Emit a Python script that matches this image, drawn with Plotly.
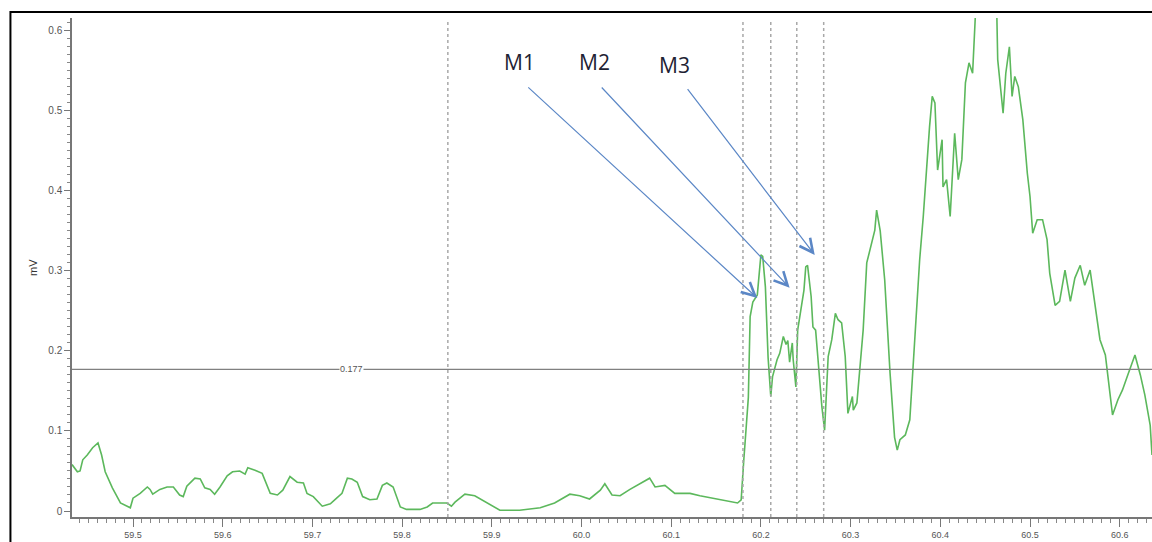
import plotly.graph_objects as go

# Retention time (min) and signal (mV)
time_min = [59.432, 59.438, 59.441, 59.444, 59.449, 59.455, 59.461, 59.465, 59.469, 59.477,
            59.486, 59.497, 59.500, 59.508, 59.516, 59.519, 59.522, 59.530, 59.538, 59.545,
            59.552, 59.556, 59.560, 59.564, 59.569, 59.575, 59.580, 59.586, 59.591, 59.597,
            59.605, 59.611, 59.619, 59.625, 59.628, 59.636, 59.644, 59.653, 59.661, 59.667,
            59.675, 59.683, 59.690, 59.694, 59.701, 59.711, 59.720, 59.727, 59.733, 59.739,
            59.744, 59.750, 59.756, 59.764, 59.772, 59.778, 59.783, 59.790, 59.798, 59.805,
            59.820, 59.828, 59.834, 59.850, 59.855, 59.859, 59.865, 59.870, 59.881, 59.898,
            59.909, 59.931, 59.954, 59.970, 59.987, 59.998, 60.009, 60.021, 60.026, 60.034,
            60.043, 60.054, 60.065, 60.076, 60.082, 60.093, 60.104, 60.121, 60.132, 60.154,
            60.174, 60.178, 60.179, 60.181, 60.182, 60.186, 60.188, 60.191, 60.196, 60.198,
            60.200, 60.202, 60.205, 60.208, 60.211, 60.213, 60.218, 60.221, 60.225, 60.228,
            60.230, 60.232, 60.235, 60.236, 60.239, 60.241, 60.246, 60.248, 60.250, 60.252,
            60.256, 60.258, 60.261, 60.264, 60.268, 60.271, 60.275, 60.279, 60.283, 60.286,
            60.290, 60.294, 60.297, 60.302, 60.303, 60.307, 60.310, 60.314, 60.318, 60.324,
            60.327, 60.329, 60.333, 60.338, 60.344, 60.349, 60.352, 60.355, 60.361, 60.366,
            60.374, 60.377, 60.381, 60.385, 60.388, 60.391, 60.394, 60.397, 60.402, 60.403,
            60.407, 60.411, 60.416, 60.420, 60.424, 60.428, 60.432, 60.436, 60.439, 60.445,
            60.452, 60.458, 60.463, 60.464, 60.470, 60.473, 60.477, 60.480, 60.483, 60.487,
            60.492, 60.497, 60.500, 60.503, 60.508, 60.514, 60.519, 60.522, 60.526, 60.528,
            60.533, 60.539, 60.545, 60.550, 60.556, 60.561, 60.567, 60.572, 60.578, 60.584,
            60.589, 60.592, 60.598, 60.603, 60.609, 60.617, 60.623, 60.628, 60.634, 60.636]

signal_mv = [0.058, 0.049, 0.050, 0.064, 0.070, 0.079, 0.085, 0.070, 0.049, 0.029,
             0.010, 0.004, 0.016, 0.022, 0.030, 0.027, 0.021, 0.027, 0.030, 0.030,
             0.020, 0.018, 0.031, 0.035, 0.041, 0.040, 0.029, 0.027, 0.021, 0.030,
             0.044, 0.049, 0.050, 0.046, 0.054, 0.051, 0.047, 0.022, 0.020, 0.026,
             0.043, 0.036, 0.035, 0.022, 0.018, 0.006, 0.009, 0.016, 0.022, 0.041,
             0.040, 0.036, 0.018, 0.014, 0.015, 0.032, 0.035, 0.030, 0.005, 0.002,
             0.002, 0.005, 0.010, 0.010, 0.006, 0.011, 0.017, 0.021, 0.019, 0.008,
             0.001, 0.001, 0.004, 0.010, 0.021, 0.019, 0.015, 0.026, 0.034, 0.020,
             0.019, 0.027, 0.034, 0.041, 0.030, 0.032, 0.022, 0.022, 0.019, 0.014,
             0.010, 0.014, 0.035, 0.065, 0.080, 0.142, 0.243, 0.261, 0.270, 0.301,
             0.320, 0.318, 0.280, 0.192, 0.143, 0.168, 0.189, 0.197, 0.218, 0.208,
             0.213, 0.186, 0.210, 0.189, 0.155, 0.226, 0.264, 0.276, 0.305, 0.307,
             0.268, 0.230, 0.226, 0.185, 0.130, 0.101, 0.193, 0.214, 0.247, 0.239,
             0.235, 0.193, 0.122, 0.143, 0.126, 0.135, 0.172, 0.226, 0.310, 0.335,
             0.351, 0.376, 0.350, 0.289, 0.172, 0.092, 0.076, 0.089, 0.095, 0.114,
             0.264, 0.314, 0.368, 0.439, 0.480, 0.518, 0.510, 0.426, 0.464, 0.405,
             0.414, 0.368, 0.472, 0.414, 0.439, 0.535, 0.560, 0.547, 0.617, 0.680,
             0.710, 0.680, 0.620, 0.564, 0.497, 0.547, 0.580, 0.518, 0.543, 0.530,
             0.489, 0.422, 0.393, 0.347, 0.364, 0.364, 0.339, 0.297, 0.272, 0.257,
             0.262, 0.301, 0.262, 0.291, 0.307, 0.282, 0.301, 0.264, 0.214, 0.195,
             0.151, 0.120, 0.139, 0.151, 0.170, 0.195, 0.170, 0.145, 0.107, 0.070]

x_tick_vals = [59.5, 59.6, 59.7, 59.8, 59.9, 60.0, 60.1, 60.2, 60.3, 60.4, 60.5, 60.6]
x_tick_text = ["59.5", "59.6", "59.7", "59.8", "59.9", "60.0", "60.1", "60.2", "60.3", "60.4", "60.5", "60.6"]
y_tick_vals = [0, 0.1, 0.2, 0.3, 0.4, 0.5, 0.6]
y_tick_text = ["0", "0.1", "0.2", "0.3", "0.4", "0.5", "0.6"]

threshold = 0.177
marker_lines = [59.851, 60.180, 60.211, 60.240, 60.270]

# Arrow labels: text, text position, arrow tail, arrow head (data units)
labels = ["M1", "M2", "M3"]
label_x = [59.931, 60.015, 60.104]
label_y = [0.561, 0.561, 0.557]
tail_x = [59.939, 60.021, 60.117]
tail_y = [0.531, 0.531, 0.529]
head_x = [60.196, 60.232, 60.260]
head_y = [0.266, 0.279, 0.320]

fig = go.Figure()
fig.add_trace(go.Scatter(x=time_min, y=signal_mv, mode="lines",
                         line=dict(color="#5cb85c", width=1.6), showlegend=False,
                         hoverinfo="x+y"))

shapes = []
shapes.append(dict(type="line", xref="paper", yref="y", x0=0, x1=1, y0=threshold, y1=threshold,
                   line=dict(color="#808080", width=1.2)))
for xv in marker_lines:
    shapes.append(dict(type="line", xref="x", yref="paper", x0=xv, x1=xv, y0=0, y1=0.995,
                       line=dict(color="#a8a8a8", width=1.5, dash="dot")))
# outer frame of the screenshot
shapes.append(dict(type="rect", xref="paper", yref="paper", x0=-0.057, x1=1.02, y0=-0.2, y1=1.012,
                   line=dict(color="black", width=2), fillcolor="rgba(0,0,0,0)", layer="above"))

annotations = []
annotations.append(dict(x=59.744, y=threshold, xref="x", yref="y", text="0.177", showarrow=False,
                        bgcolor="white", font=dict(size=9, color="#555", family="Liberation Sans Narrow, Arial Narrow, sans-serif"),
                        borderpad=0))
for t, lx, ly, tx, ty, hx, hy in zip(labels, label_x, label_y, tail_x, tail_y, head_x, head_y):
    annotations.append(dict(x=lx, y=ly, xref="x", yref="y", text=t, showarrow=False,
                            font=dict(size=21, color="#1e2233", family="Open Sans, sans-serif")))
    annotations.append(dict(x=hx, y=hy, ax=tx, ay=ty, xref="x", yref="y", axref="x", ayref="y",
                            text="", showarrow=True, arrowhead=5, arrowsize=2.2, arrowwidth=1.2,
                            arrowcolor="#5b87c6"))
annotations.append(dict(x=-0.044, y=0.50, xref="paper", yref="paper", text="mV", showarrow=False,
                        textangle=-90, font=dict(size=11, color="#333", family="Liberation Sans, sans-serif")))

fig.update_layout(
    width=1152, height=542,
    margin=dict(l=72, r=0, t=18, b=25, autoexpand=False),
    paper_bgcolor="white", plot_bgcolor="white",
    shapes=shapes, annotations=annotations,
    xaxis=dict(range=[59.432, 60.636], tickvals=x_tick_vals, ticktext=x_tick_text,
               automargin=False,
               showgrid=False, zeroline=False, showline=True, linecolor="#777", linewidth=1.5,
               ticks="outside", ticklen=8, tickcolor="#777", tickwidth=1,
               minor=dict(dtick=0.01, ticks="outside", ticklen=4, tickcolor="#888", showgrid=False),
               tickfont=dict(size=9, color="#555", family="Liberation Sans Narrow, Arial Narrow, sans-serif")),
    yaxis=dict(range=[-0.0075, 0.616], tickvals=y_tick_vals, ticktext=y_tick_text,
               automargin=False,
               showgrid=False, zeroline=False, showline=True, linecolor="#777", linewidth=1.5,
               ticks="outside", ticklen=6, tickcolor="#777", tickwidth=1,
               minor=dict(dtick=0.01, ticks="outside", ticklen=3, tickcolor="#888", showgrid=False),
               tickfont=dict(size=10, color="#555", family="Liberation Sans Narrow, Arial Narrow, sans-serif")),
)

fig.write_html("out.html", config={"displayModeBar": False},
               post_script="document.body.style.margin='0px';document.body.style.overflow='hidden';")
